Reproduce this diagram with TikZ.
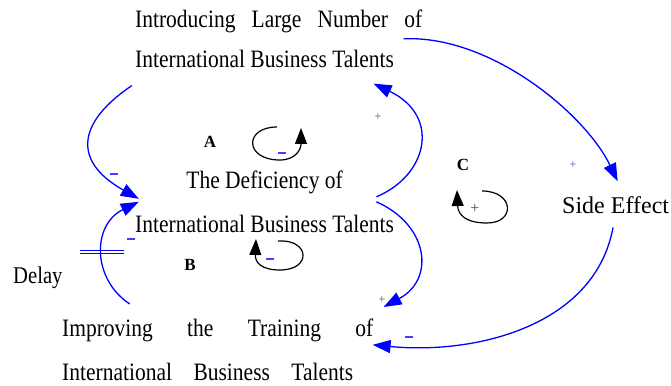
\documentclass[tikz,border=0pt]{standalone}
\usepackage{fontspec}
\setmainfont{Liberation Serif}
\newfontfamily\condfont[FakeStretch=0.86]{Liberation Serif}
\usetikzlibrary{arrows.meta,positioning,fit,calc}

\begin{document}
\begin{tikzpicture}[
  x=1pt, y=1pt,
  txtline/.style={font=\condfont\fontsize{25}{30}\selectfont, inner sep=0pt, anchor=base west},
  concept/.style={inner sep=0pt},
  plain/.style={font=\fontsize{24}{28}\selectfont, inner sep=0pt, anchor=base west},
  tag/.style={font=\bfseries\fontsize{17}{20}\selectfont, inner sep=0pt},
  link/.style={-{Triangle[length=18pt,width=13pt]}, blue, line width=1.3pt},
  loopy/.style={-{Triangle[length=16pt,width=12pt]}, black, line width=1.2pt},
  negsign/.style={text=blue!75!white, inner sep=0pt},
  possign/.style={font=\fontsize{12}{12}\selectfont, text=black!70, inner sep=0pt}
]
\useasboundingbox (0,0) rectangle (671,385);

% variables
\node[txtline] (intro1) at (135,357) {\makebox[287pt][s]{Introducing Large Number of}};
\node[txtline] (intro2) at ([yshift=-40pt]intro1.base west) {International Business Talents};
\node[concept, fit=(intro1)(intro2)] (intro) {};

\node[txtline] (defic2) at (135,152) {International Business Talents};
\node[txtline, anchor=base] (defic1) at ([yshift=44pt]defic2.base) {The Deficiency of};
\node[concept, fit=(defic1)(defic2)] (defic) {};

\node[txtline] (train1) at (62,48) {\makebox[311pt][s]{Improving the Training of}};
\node[txtline] (train2) at ([yshift=-43pt]train1.base west) {\makebox[291pt][s]{International Business Talents}};
\node[concept, fit=(train1)(train2)] (train) {};

\node[plain] (side) at (562,171) {Side Effect};
\node[txtline, font=\condfont\fontsize{24}{28}\selectfont] (delay) at (13,101) {Delay};

% loop names
\node[tag] (tagA) at (210,243) {A};
\node[tag] (tagB) at (190,120) {B};
\node[tag] (tagC) at (463,220) {C};

% causal links
\draw[link] ([shift={(-3pt,-17pt)}]intro.south west) .. controls +(-52,-35) and +(-69,39) .. ([shift={(4pt,3.5pt)}]defic.west);
\draw[link] ([shift={(68pt,15pt)}]train.north west) .. controls +(-38,25) and +(-47,-23) .. ([shift={(4pt,0.5pt)}]defic.west) coordinate[pos=0.5] (dly);
\draw[link] ([shift={(-18pt,5.5pt)}]defic.east) .. controls +(52,22) and +(67,-32) .. ([shift={(-49pt,-15pt)}]intro.south east);
\draw[link] ([shift={(-18pt,0.5pt)}]defic.east) .. controls +(52,-23) and +(52,28) .. ([shift={(10pt,12pt)}]train.north east);
\draw[link] ([shift={(-19pt,0.5pt)}]intro.east) .. controls +(87,4) and +(-32,67) .. ([shift={(2pt,15.6pt)}]side.north);
\draw[link] ([shift={(-2.6pt,-13pt)}]side.south) .. controls +(-18,-98) and +(104,-10) .. ([shift={(-1pt,5pt)}]train.east);

% delay mark
\draw[blue, line width=1pt] ([shift={(-22pt,1.7pt)}]dly) -- ++(44pt,0pt);
\draw[blue, line width=1pt] ([shift={(-22pt,-1.7pt)}]dly) -- ++(44pt,0pt);

% loop symbols
\draw[loopy] (277,258) .. controls (244,258) and (244,225) .. (280,225) .. controls (295,225) and (301,235) .. (301,257);
\draw[loopy] (278,144) .. controls (310,146) and (312,115) .. (280,115) .. controls (262,115) and (255,122) .. (256,146);
\draw[loopy] (482,194) .. controls (514,194) and (516,162) .. (487,162) .. controls (466,162) and (458,170) .. (457,195);

% polarities
\node[negsign] (n1) at (114,211) {\rule{8pt}{1.2pt}};
\node[negsign] (n2) at (131,146) {\rule{8pt}{1.2pt}};
\node[negsign] (n3) at (282,232) {\rule{8pt}{1.2pt}};
\node[negsign] (n4) at (270,126) {\rule{8pt}{1.2pt}};
\node[negsign] (n5) at (409,48) {\rule{8pt}{1.2pt}};
\node[possign] (p1) at (378,268) {+};
\node[possign] (p2) at (382,85) {+};
\node[possign, text=blue!75!white] (p3) at (573,220) {+};
\node[possign, font=\fontsize{16}{16}\selectfont] (p4) at (475,176) {+};
\end{tikzpicture}
\end{document}
